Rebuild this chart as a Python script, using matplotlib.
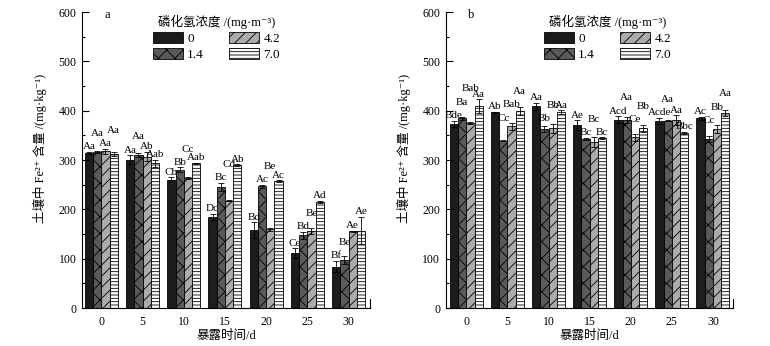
import numpy as np
import matplotlib
matplotlib.use("Agg")
import matplotlib.pyplot as plt

plt.rcParams['font.family'] = ['Liberation Serif', 'Noto Sans CJK SC', 'DejaVu Serif']
plt.rcParams['hatch.linewidth'] = 0.6

# exposure days and PH3 concentrations
days = ['0', '5', '10', '15', '20', '25', '30']
concs = ['0', '1.4', '4.2', '7.0']

# panel a: Fe2+ content (mg/kg), one list per concentration
a_vals = [[315, 301, 260, 185, 158, 111, 84],
          [316, 310, 280, 246, 247, 147, 97],
          [318, 307, 263, 217, 160, 157, 156],
          [313, 293, 293, 289, 257, 215, 157]]
a_errs = [[2, 9, 5, 6, 16, 10, 12],
          [2, 4, 5, 8, 3, 8, 8],
          [5, 10, 2, 1, 3, 6, 1],
          [4, 8, 1, 2, 2, 2, 28]]
a_labs = [['Aa', 'Aa', 'Cb', 'Dc', 'Bd', 'Ce', 'Bf'],
          ['Aa', 'Aa', 'Bb', 'Bc', 'Ac', 'Bd', 'Be'],
          ['Aa', 'Ab', 'Cc', 'Cd', 'Be', 'Be', 'Ae'],
          ['Aa', 'Aab', 'Aab', 'Ab', 'Ac', 'Ad', 'Ae']]

# panel b
b_vals = [[373, 397, 409, 371, 382, 380, 385],
          [385, 339, 362, 343, 381, 380, 342],
          [376, 368, 364, 336, 346, 381, 362],
          [409, 399, 397, 344, 364, 355, 395]]
b_errs = [[7, 1, 7, 10, 7, 6, 3],
          [3, 1, 6, 2, 6, 1, 6],
          [2, 7, 10, 10, 7, 10, 8],
          [14, 8, 4, 2, 7, 2, 6]]
b_labs = [['Bde', 'Ab', 'Aa', 'Ae', 'Acd', 'Acde', 'Ac'],
          ['Ba', 'Cc', 'Bb', 'Bc', 'Aa', 'Aa', 'Cc'],
          ['Bab', 'Bab', 'Bb', 'Bc', 'Ce', 'Aa', 'Bb'],
          ['Aa', 'Aa', 'Aa', 'Bc', 'Bb', 'Bbc', 'Aa']]

# how each letter label is stacked: 0 above own bar, 1 above previous label,
# 2 above the next bar
a_tier = [[0, 0, 0, 0, 0, 0, 0],
          [1, 1, 0, 0, 0, 0, 1],
          [0, 0, 1, 1, 1, 1, 0],
          [1, 0, 0, 0, 0, 0, 0]]
b_tier = [[0, 0, 0, 0, 0, 0, 0],
          [1, 2, 2, 0, 1, 1, 2],
          [1, 1, 1, 1, 2, 0, 1],
          [0, 1, 0, 0, 1, 0, 1]]

faces = ['#1c1c1c', '#5a5a5a', '#ababab', 'white']
hatches = [None, 'xx', '///', '-----']
width = 0.2
x = np.arange(len(days))
offs = (np.arange(4) - 1.5) * width


def draw_panel(ax, vals, errs, labs, tiers, letter, xlim, leg_x):
    handles = []
    for k in range(4):
        b = ax.bar(x + offs[k], vals[k], width, color=faces[k], edgecolor='black',
                   linewidth=0.6, hatch=hatches[k], label=concs[k])
        ax.errorbar(x + offs[k], vals[k], yerr=errs[k], fmt='none', ecolor='black',
                    elinewidth=0.6, capsize=2.5, capthick=0.6)
        handles.append(b)

    step, pad = 27, 1
    for g in range(len(days)):
        ys = []
        for k in range(4):
            t = tiers[k][g]
            if t == 1:
                y = ys[k - 1] + step
            elif t == 2:
                y = vals[k + 1][g] + errs[k + 1][g] + pad
            else:
                y = vals[k][g] + errs[k][g] + pad
            ys.append(y)
            ax.text(x[g] + offs[k], y, labs[k][g], ha='center', va='bottom', fontsize=8)

    ax.set_xlim(*xlim)
    ax.set_ylim(0, 600)
    ax.set_xticks(x)
    ax.set_xticklabels(days)
    ax.set_yticks(range(0, 601, 100))
    ax.set_yticks(range(50, 600, 100), minor=True)
    ax.tick_params(axis='y', which='major', direction='in', length=5, width=0.8,
                   labelsize=8.5, pad=4)
    ax.tick_params(axis='y', which='minor', direction='in', length=2.5, width=0.8)
    ax.tick_params(axis='x', length=0, labelsize=8.5, pad=6)
    ax.spines['top'].set_visible(False)
    ax.spines['right'].set_bounds(0, 18)
    for s in ['left', 'bottom', 'right']:
        ax.spines[s].set_linewidth(0.8)

    ax.set_xlabel('暴露时间/d', fontsize=9, labelpad=1)
    ax.set_ylabel('土壤中 Fe²⁺ 含量 /(mg·kg⁻¹)', fontsize=9)
    ax.yaxis.set_label_coords(-0.12, 0.54)
    ax.text(0.087, 0.99, letter, transform=ax.transAxes, fontsize=9,
            ha='center', va='center')

    ax.legend(handles=handles, ncol=2, loc='upper left',
              bbox_to_anchor=(leg_x, 1.03), frameon=False, fontsize=9.5,
              title='磷化氢浓度 /(mg·m⁻³)', title_fontsize=9,
              handlelength=2.3, handleheight=0.95, handletextpad=0.3,
              columnspacing=1.9, labelspacing=0.2)


fig = plt.figure(figsize=(7.7, 3.46), dpi=100)
ax1 = fig.add_axes([0.1065, 0.1098, 0.374, 0.8555])
ax2 = fig.add_axes([0.579, 0.1098, 0.373, 0.8555])

draw_panel(ax1, a_vals, a_errs, a_labs, a_tier, 'a', (-0.47, 6.52), 0.205)
draw_panel(ax2, b_vals, b_errs, b_labs, b_tier, 'b', (-0.5, 6.49), 0.3)

fig.savefig('out.png', dpi=100)
